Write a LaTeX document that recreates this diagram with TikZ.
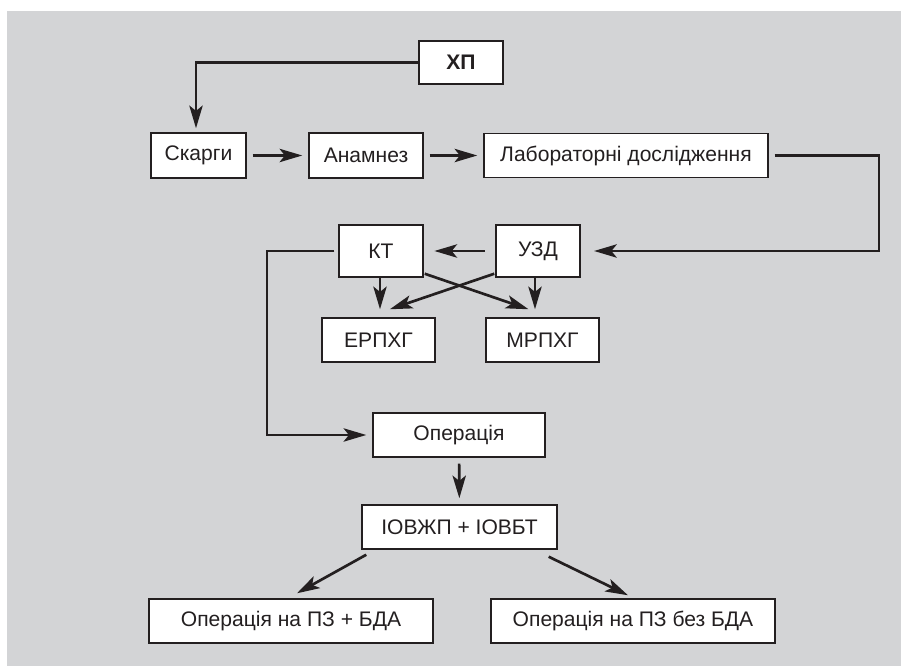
\documentclass[tikz,border=0pt]{standalone}
\usepackage{fontspec}
\setmainfont{Liberation Sans}
\usetikzlibrary{arrows.meta}
\definecolor{bg}{RGB}{211,212,214}
\definecolor{ink}{RGB}{35,31,32}
\begin{document}
\begin{tikzpicture}[x=0.75pt,y=-0.75pt,
  box/.style={draw=ink,line width=1.1pt,fill=white,text=ink,inner sep=0pt,font=\fontsize{15.8}{18}\selectfont},
  conn/.style={draw=ink,line width=2pt},
  arr/.style={conn,-{Stealth[length=17pt,width=10pt,inset=4pt]},shorten >=4.5pt,shorten <=4.5pt}]
\useasboundingbox (0,0) rectangle (901,666);
\fill[white] (0,0) rectangle (901,666);
\fill[bg] (7,11) rectangle (901,666);
\node[box,minimum width=84*0.75pt,minimum height=43*0.75pt,font=\fontsize{15.8}{18}\selectfont\bfseries] (hp) at (461,62.5) {ХП};
\node[box,minimum width=95*0.75pt,minimum height=45*0.75pt] (sk) at (198.5,155.5) {Скарги};
\node[box,minimum width=114*0.75pt,minimum height=45*0.75pt] (an) at (366,155.5) {Анамнез};
\node[box,minimum width=284*0.75pt,minimum height=44*0.75pt] (lab) at (626,155.5) {Лабораторні дослідження};
\node[box,minimum width=84*0.75pt,minimum height=52*0.75pt] (kt) at (381,251) {КТ};
\node[box,minimum width=84*0.75pt,minimum height=52*0.75pt] (uzd) at (538,251) {УЗД};
\node[box,minimum width=113*0.75pt,minimum height=44*0.75pt] (erp) at (378.5,340) {ЕРПХГ};
\node[box,minimum width=113*0.75pt,minimum height=44*0.75pt] (mrp) at (542.5,340) {МРПХГ};
\node[box,minimum width=172*0.75pt,minimum height=44*0.75pt] (op) at (459,435) {Операція};
\node[box,minimum width=195*0.75pt,minimum height=44*0.75pt] (iov) at (459.5,527) {ІОВЖП + ІОВБТ};
\node[box,minimum width=284*0.75pt,minimum height=44*0.75pt] (bl) at (291,621) {Операція на ПЗ + БДА};
\node[box,minimum width=284*0.75pt,minimum height=44*0.75pt] (br) at (633,621) {Операція на ПЗ без БДА};
\coordinate (c1) at (196,100);
\coordinate (c2) at (879,200);
\coordinate (c3) at (267,300);
% connectors
\draw[arr,shorten <=0pt,shorten >=3pt] (hp.west) -| (c1) -- (c1 |- sk.north);
\draw[arr] (sk) -- (an);
\draw[arr] (an) -- (lab);
\draw[arr,shorten >=10pt] (lab.east) -| (c2) |- (uzd.east);
\draw[arr,shorten <=8pt,shorten >=8pt] (uzd.west) -- (kt.east);
\draw[arr,shorten <=3pt] (kt.west) -| (c3) |- (op.west);
\draw[arr,shorten <=0pt,shorten >=6pt] ([xshift=-0.75pt]kt.south) -- ([xshift=-0.75pt]erp.north -| kt.south);
\draw[arr,shorten <=0pt,shorten >=6pt] ([xshift=-2.25pt]uzd.south) -- ([xshift=-2.25pt]mrp.north -| uzd.south);
\draw[arr,shorten <=0pt,shorten >=0pt] ([xshift=0.75pt,yshift=3pt]kt.south east) -- ([xshift=-10.5pt,yshift=6pt]mrp.north);
\draw[arr,shorten <=0pt,shorten >=0pt] ([xshift=-0.75pt,yshift=3pt]uzd.south west) -- ([xshift=8.5pt,yshift=6pt]erp.north);
\draw[arr] (op) -- (iov);
\draw[arr,shorten <=0pt,shorten >=0pt] ([xshift=3.75pt,yshift=-3.75pt]iov.south west) -- ([xshift=4.5pt,yshift=3.75pt]bl.north);
\draw[arr,shorten <=0pt,shorten >=0pt] ([xshift=-6.75pt,yshift=-5.25pt]iov.south east) -- ([xshift=-3.75pt,yshift=2.25pt]br.north);
\end{tikzpicture}
\end{document}
